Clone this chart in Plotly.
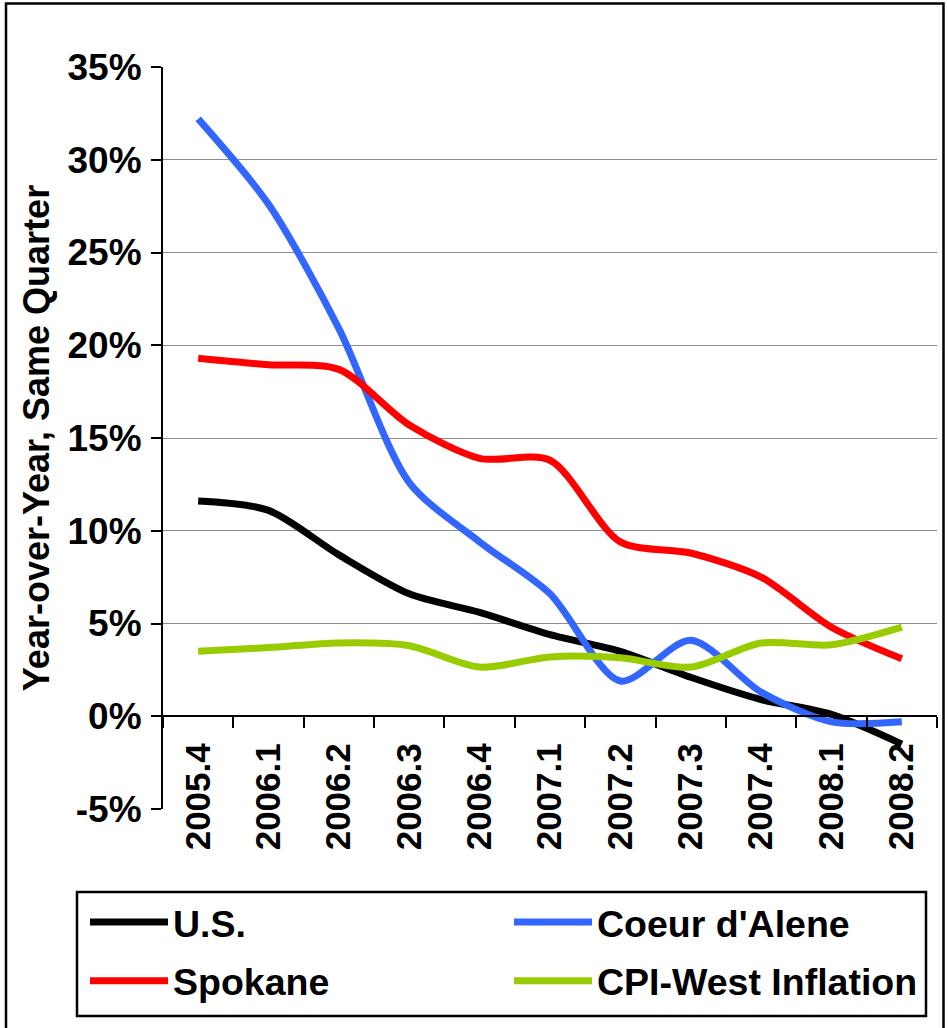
import plotly.graph_objects as go

# ---- data ----
quarters = ["2005.4", "2006.1", "2006.2", "2006.3", "2006.4", "2007.1",
            "2007.2", "2007.3", "2007.4", "2008.1", "2008.2"]
us = [11.6, 11.1, 8.7, 6.6, 5.6, 4.4, 3.5, 2.1, 0.9, 0.1, -1.5]
coeur_dalene = [32.2, 27.6, 20.9, 12.6, 9.4, 6.6, 1.9, 4.1, 1.3, -0.3, -0.3]
spokane = [19.3, 18.95, 18.7, 15.7, 13.9, 13.8, 9.4, 8.8, 7.5, 4.8, 3.1]
cpi_west = [3.5, 3.7, 3.95, 3.8, 2.65, 3.2, 3.15, 2.65, 3.95, 3.85, 4.8]

y_tick_values = [-5, 0, 5, 10, 15, 20, 25, 30, 35]
y_tick_labels = ["-5%", "0%", "5%", "10%", "15%", "20%", "25%", "30%", "35%"]

FONT = "Liberation Sans, Arial, Helvetica, sans-serif"

W, H = 948, 1028
L, R, T, B = 163, 11, 67, 219
PW = W - L - R
PH = H - T - B


def px(xp):
    return (xp - L) / PW


def py(yp):
    return (H - B - yp) / PH


fig = go.Figure()

series = [
    ("U.S.", us, "#000000", "legend"),
    ("Coeur d'Alene", coeur_dalene, "#3366FF", "legend2"),
    ("Spokane", spokane, "#FF0000", "legend"),
    ("CPI-West Inflation", cpi_west, "#99CC00", "legend2"),
]
for i, (name, vals, col, lg) in enumerate(series):
    fig.add_trace(go.Scatter(
        x=quarters, y=vals, name=name, mode="lines",
        line=dict(color=col, width=7, shape="spline", smoothing=0.8),
        legend=lg, legendgroup=f"g{i}", hoverinfo="x+y+name",
    ))

legend_common = dict(
    orientation="v", xanchor="left", yanchor="top",
    bgcolor="rgba(0,0,0,0)", borderwidth=0, itemwidth=78,
    font=dict(family=FONT, size=37.5, color="black", weight="bold"),
    tracegroupgap=7, itemclick=False, itemdoubleclick=False,
)

fig.update_layout(
    width=W, height=H,
    margin=dict(l=L, r=R, t=T, b=B, pad=0),
    paper_bgcolor="white", plot_bgcolor="white",
    font=dict(family=FONT, color="black"),
    showlegend=True,
    legend=dict(x=px(85), y=py(891), **legend_common),
    legend2=dict(x=px(509), y=py(891), **legend_common),
    xaxis=dict(
        type="category", range=[-0.5, 10.5],
        anchor="free", position=5 / 40,
        showline=True, linecolor="black", linewidth=2,
        ticks="outside", ticklen=11, tickwidth=2, tickcolor="black",
        tickson="boundaries", tickangle=-90, ticklabelstandoff=12,
        tickfont=dict(family=FONT, size=35, color="black", weight="bold"),
        showgrid=False, zeroline=False, fixedrange=True,
    ),
    yaxis=dict(
        range=[-5, 35], tickvals=y_tick_values, ticktext=y_tick_labels,
        showline=True, linecolor="black", linewidth=2,
        ticks="outside", ticklen=10, tickwidth=2, tickcolor="black",
        ticklabelstandoff=2,
        tickfont=dict(family=FONT, size=37, color="black", weight="bold"),
        showgrid=True, gridcolor="#8c8c8c", gridwidth=1,
        zeroline=False, fixedrange=True,
        title=dict(text="Year-over-Year, Same Quarter", standoff=7,
                   font=dict(family=FONT, size=36, color="black", weight="bold")),
    ),
    shapes=[
        # outer frame
        dict(type="rect", xref="paper", yref="paper",
             x0=px(6), x1=px(943.5), y0=py(1040), y1=py(3.5),
             line=dict(color="black", width=2.5), layer="below"),
        # legend frame
        dict(type="rect", xref="paper", yref="paper",
             x0=px(77), x1=px(926), y0=py(1016), y1=py(892),
             line=dict(color="black", width=2.5), layer="below"),
    ],
)

fig.write_html(
    "out.html",
    config={"displayModeBar": False},
    post_script="document.body.style.margin='0';document.body.style.overflow='hidden';",
)
